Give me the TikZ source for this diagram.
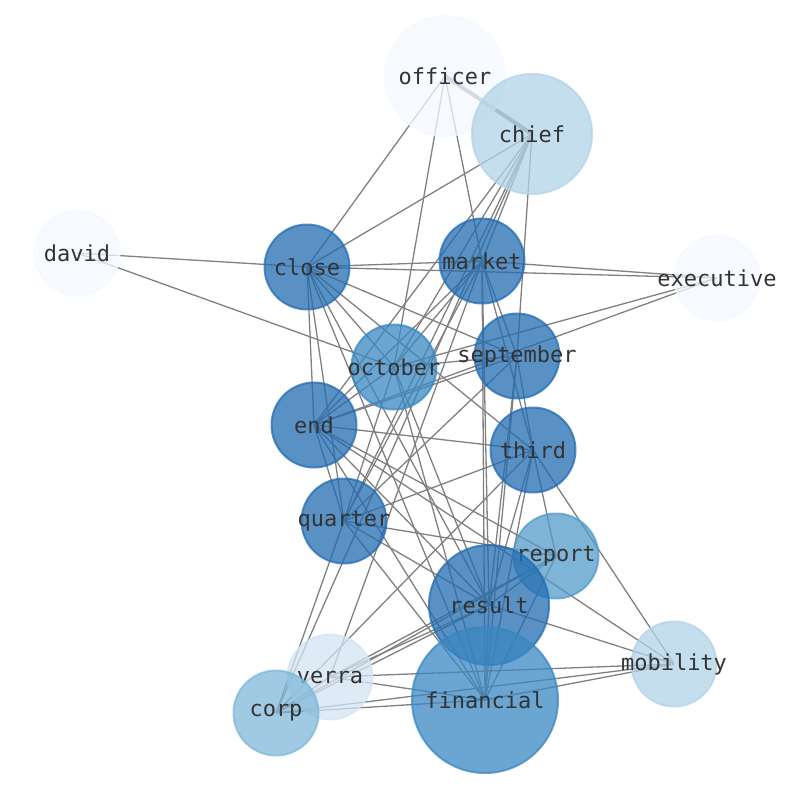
\documentclass[tikz,border=0pt]{standalone}
\usepackage{fontspec}
\setmonofont{DejaVu Sans Mono}
\usepackage{tikz}
\usetikzlibrary{positioning}
\pgfdeclarelayer{background}
\pgfsetlayers{background,main}
\definecolor{blueA}{HTML}{F4F9FF}
\definecolor{blueB}{HTML}{D3E4F3}
\definecolor{blueC}{HTML}{B2D3E7}
\definecolor{blueD}{HTML}{80B8DB}
\definecolor{blueE}{HTML}{529BCA}
\definecolor{blueF}{HTML}{3A87C2}
\definecolor{blueG}{HTML}{236CB2}
\newcommand{\word}[1]{\makebox[0pt]{#1}}

\begin{document}
\begin{tikzpicture}[x=1pt,y=-1pt]

\tikzset{vertex/.style = {shape=circle,draw=#1,fill=#1,fill opacity=0.75,draw opacity=0.75,text opacity=1,line width=2pt,inner sep=0pt,text=black!80,font=\fontsize{22}{26}\selectfont\ttfamily}}
\tikzset{vsmall/.style = {minimum size=85pt}}
\tikzset{vmid/.style = {minimum size=120pt}}
\tikzset{vbig/.style = {minimum size=146pt}}
\tikzset{edge/.style = {draw=black!50,line width=1.3pt}}

\useasboundingbox (0,0) rectangle (794,790);

%vertex
\node[vertex=blueA,vmid] (officer) at (445,76) {\word{officer}};
\node[vertex=blueC,vmid] (chief) at (532,134) {\word{chief}};
\node[vertex=blueA,vsmall] (david) at (77,253) {\word{david}};
\node[vertex=blueG,vsmall] (close) at (307,267) {\word{close}};
\node[vertex=blueG,vsmall] (market) at (482,261) {\word{market}};
\node[vertex=blueA,vsmall] (executive) at (717,278) {\word{executive}};
\node[vertex=blueF,vsmall] (october) at (394,367) {\word{october}};
\node[vertex=blueG,vsmall] (september) at (517,356) {\word{september}};
\node[vertex=blueG,vsmall] (end) at (314,425) {\word{end}};
\node[vertex=blueG,vsmall] (third) at (533,450) {\word{third}};
\node[vertex=blueG,vsmall] (quarter) at (344,521) {\word{quarter}};
\node[vertex=blueE,vsmall] (report) at (556,556) {\word{report}};
\node[vertex=blueG,vmid] (result) at (489,605) {\word{result}};
\node[vertex=blueB,vsmall] (verra) at (330,677) {\word{verra}};
\node[vertex=blueC,vsmall] (mobility) at (674,664) {\word{mobility}};
\node[vertex=blueD,vsmall] (corp) at (276,713) {\word{corp}};
\node[vertex=blueF,vbig] (financial) at (485,700) {\word{financial}};

\begin{pgfonlayer}{background}
%officer and chief
\draw[edge,line width=4pt] (officer.center) to (chief.center);
\draw[edge] (officer.center) to (close.center);
\draw[edge] (officer.center) to (october.center);
\draw[edge] (officer.center) to (market.center);
\draw[edge] (chief.center) to (close.center);
\draw[edge] (chief.center) to (market.center);
\draw[edge] (chief.center) to (september.center);
\draw[edge] (chief.center) to (october.center);
\draw[edge] (chief.center) to (end.center);
\draw[edge] (chief.center) to (quarter.center);
\draw[edge] (chief.center) to (corp.center);

%david and executive
\draw[edge] (david.center) to (close.center);
\draw[edge] (david.center) to (october.center);
\draw[edge] (executive.center) to (close.center);
\draw[edge] (executive.center) to (market.center);
\draw[edge] (executive.center) to (october.center);
\draw[edge] (executive.center) to (end.center);

%close
\draw[edge] (close.center) to (market.center);
\draw[edge] (close.center) to (october.center);
\draw[edge] (close.center) to (end.center);
\draw[edge] (close.center) to (quarter.center);
\draw[edge] (close.center) to (september.center);
\draw[edge] (close.center) to (third.center);
\draw[edge] (close.center) to (result.center);
\draw[edge] (close.center) to (financial.center);

%market
\draw[edge] (market.center) to (october.center);
\draw[edge] (market.center) to (end.center);
\draw[edge] (market.center) to (quarter.center);
\draw[edge] (market.center) to (september.center);
\draw[edge] (market.center) to (third.center);
\draw[edge] (market.center) to (result.center);
\draw[edge] (market.center) to (financial.center);
\draw[edge] (market.center) to (verra.center);

%october and september
\draw[edge] (october.center) to (september.center);
\draw[edge] (october.center) to (end.center);
\draw[edge] (october.center) to (quarter.center);
\draw[edge] (october.center) to (result.center);
\draw[edge] (october.center) to (financial.center);
\draw[edge] (september.center) to (end.center);
\draw[edge] (september.center) to (third.center);
\draw[edge] (september.center) to (quarter.center);
\draw[edge] (september.center) to (result.center);
\draw[edge] (september.center) to (financial.center);

%end and third
\draw[edge] (end.center) to (third.center);
\draw[edge] (end.center) to (quarter.center);
\draw[edge] (end.center) to (report.center);
\draw[edge] (end.center) to (result.center);
\draw[edge] (end.center) to (financial.center);
\draw[edge] (end.center) to (mobility.center);
\draw[edge] (third.center) to (quarter.center);
\draw[edge] (third.center) to (result.center);
\draw[edge] (third.center) to (financial.center);
\draw[edge] (third.center) to (report.center);
\draw[edge] (third.center) to (mobility.center);
\draw[edge] (third.center) to (corp.center);

%quarter and report
\draw[edge] (quarter.center) to (report.center);
\draw[edge] (quarter.center) to (result.center);
\draw[edge] (quarter.center) to (financial.center);
\draw[edge] (quarter.center) to (corp.center);
\draw[edge] (report.center) to (result.center);
\draw[edge] (report.center) to (financial.center);
\draw[edge] (report.center) to (corp.center);
\draw[edge] (report.center) to (verra.center);

%bottom row
\draw[edge] (result.center) to (financial.center);
\draw[edge] (result.center) to (mobility.center);
\draw[edge] (result.center) to (corp.center);
\draw[edge] (result.center) to (verra.center);
\draw[edge] (verra.center) to (financial.center);
\draw[edge] (verra.center) to (mobility.center);
\draw[edge] (verra.center) to (corp.center);
\draw[edge] (corp.center) to (financial.center);
\draw[edge] (corp.center) to (mobility.center);
\draw[edge] (financial.center) to (mobility.center);
\end{pgfonlayer}

\end{tikzpicture}
\end{document}
